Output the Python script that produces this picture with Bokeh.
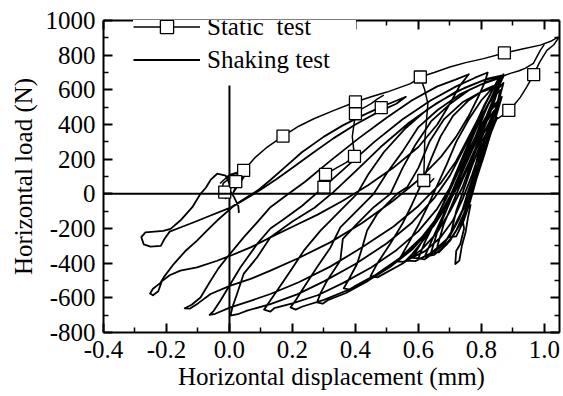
from bokeh.plotting import figure
from bokeh.models import Span, Legend, LegendItem, LinearAxis, FixedTicker, Range1d
from bokeh.embed import file_html
from bokeh.resources import INLINE

# ---------------- data ----------------
x_ticks = [-0.4, -0.2, 0.0, 0.2, 0.4, 0.6, 0.8, 1.0]
x_tick_labels = ["-0.4", "-0.2", "0.0", "0.2", "0.4", "0.6", "0.8", "1.0"]
x_minor = [-0.3, -0.1, 0.1, 0.3, 0.5, 0.7, 0.9]
y_ticks = [-800, -600, -400, -200, 0, 200, 400, 600, 800, 1000]
y_tick_labels = ["-800", "-600", "-400", "-200", "0", "200", "400", "600", "800", "1000"]
y_minor = [-700, -500, -300, -100, 100, 300, 500, 700, 900]

# static test branches
static_env_x = [-0.03, 0.0, 0.045, 0.083, 0.12, 0.17, 0.22, 0.268, 0.33, 0.40, 0.45, 0.50, 0.575, 0.606,
                0.65, 0.70, 0.75, 0.807, 0.873, 0.93, 0.987, 1.02, 1.045]
static_env_y = [60, 110, 135, 212, 270, 333, 390, 433, 480, 530, 560, 587, 636, 674,
                700, 732, 757, 780, 813, 835, 858, 880, 905]
static_unload1_x = [1.045, 1.03, 1.008, 0.985, 0.966, 0.945, 0.924, 0.905, 0.887, 0.87, 0.85]
static_unload1_y = [900, 860, 828, 760, 688, 620, 558, 515, 481, 455, 433]
static_unload2_x = [1.0, 0.987, 0.965, 0.94, 0.92, 0.892, 0.86]
static_unload2_y = [862, 828, 753, 725, 710, 695, 674]
static_unload3_x = [0.49, 0.47, 0.45, 0.42, 0.40, 0.39, 0.397, 0.37, 0.34, 0.305, 0.30, 0.285, 0.30, 0.32]
static_unload3_y = [570, 548, 520, 490, 462, 330, 216, 180, 150, 112, 38, 5, 0, 25]
static_unload4_x = [0.606, 0.62, 0.63, 0.62, 0.617, 0.638, 0.65]
static_unload4_y = [674, 600, 520, 300, 77, 67, 90]
static_origin_x = [-0.01, -0.025, -0.02, 0.0, 0.02, 0.01, 0.035, 0.045]
static_origin_y = [-30, 0, 60, 90, 40, 0, 70, 135]
static_mark_x = [0.045, 0.17, 0.40, 0.40, 0.482, 0.397, 0.305, 0.30, 0.606, 0.873, 0.966, 0.887, 0.617, -0.015, 0.02]
static_mark_y = [135, 333, 530, 462, 497, 216, 112, 38, 674, 813, 688, 481, 77, 10, 70]

# shaking test (one continuous record)
shaking_x = [
    0.03, 0.028, 0.015, 0.0, 0.012, -0.005, 0.02, 0.045, 0.03, 0.005, -0.012, -0.039,
    -0.06, -0.075, -0.092, -0.118, -0.156, -0.187, -0.21, -0.267, -0.28, -0.272, -0.251, -0.218, -0.207, -0.19,
    -0.15, -0.113, -0.06, 0.003, 0.05, 0.09, 0.13, 0.18, 0.23, 0.30, 0.36, 0.42, 0.48, 0.52, 0.56,
    0.53, 0.47, 0.40, 0.33, 0.26, 0.20, 0.15, 0.10, 0.06, 0.01, -0.039, -0.07, -0.103, -0.14, -0.177, -0.209,
    -0.22, -0.243, -0.252, -0.243, -0.226, -0.215, -0.19,
    -0.156, -0.103, -0.039, 0.003, 0.067, 0.13, 0.20, 0.28, 0.36, 0.44, 0.52, 0.60, 0.66, 0.70, 0.73, 0.76,
    0.72, 0.66, 0.58, 0.50, 0.41, 0.32, 0.24, 0.18, 0.13, 0.09, 0.045, -0.007, -0.035, -0.06, -0.092, -0.12,
    -0.142, -0.125, -0.10,
    -0.06, 0.003, 0.067, 0.13, 0.22, 0.32, 0.42, 0.52, 0.60, 0.67, 0.72, 0.76, 0.79, 0.81, 0.82,
    0.78, 0.72, 0.64, 0.55, 0.46, 0.38, 0.30, 0.23, 0.17, 0.13, 0.088, 0.035, 0.003, -0.029, -0.05, -0.063, -0.045,
    0.003, 0.067, 0.13, 0.22, 0.32, 0.42, 0.52, 0.60, 0.67, 0.72, 0.76, 0.80, 0.83, 0.85, 0.87,
    0.82, 0.75, 0.66, 0.57, 0.48, 0.40, 0.33, 0.27, 0.20, 0.13, 0.088, 0.045, 0.024, 0.01, 0.003, 0.03,
    0.056, 0.13, 0.215, 0.30, 0.40, 0.50, 0.58, 0.65, 0.70, 0.74, 0.78, 0.81, 0.84, 0.86,
    0.80, 0.72, 0.63, 0.56, 0.49, 0.44, 0.405, 0.352, 0.289, 0.236, 0.194, 0.151, 0.128, 0.11, 0.13, 0.142,
    0.20, 0.28, 0.36, 0.45, 0.53, 0.60, 0.66, 0.70, 0.74, 0.78, 0.81, 0.84, 0.86,
    0.80, 0.73, 0.66, 0.60, 0.55, 0.50, 0.458, 0.405, 0.352, 0.321, 0.278, 0.236, 0.212, 0.194, 0.21, 0.232,
    0.30, 0.38, 0.46, 0.54, 0.61, 0.67, 0.71, 0.75, 0.79, 0.82, 0.85, 0.87,
    0.82, 0.76, 0.70, 0.64, 0.59, 0.55, 0.511, 0.458, 0.405, 0.36, 0.352, 0.31, 0.29, 0.278, 0.296, 0.312,
    0.37, 0.44, 0.51, 0.58, 0.64, 0.69, 0.73, 0.77, 0.80, 0.83, 0.85,
    0.80, 0.74, 0.68, 0.635, 0.60, 0.565, 0.532, 0.469, 0.437, 0.42, 0.405, 0.38, 0.363, 0.382, 0.40,
    0.46, 0.53, 0.59, 0.65, 0.70, 0.74, 0.78, 0.81, 0.84, 0.86,
    0.81, 0.76, 0.71, 0.67, 0.64, 0.61, 0.58, 0.55, 0.51, 0.47, 0.448, 0.47, 0.49,
    0.55, 0.61, 0.66, 0.70, 0.74, 0.77, 0.80, 0.83, 0.85, 0.87,
    0.84, 0.80, 0.76, 0.72, 0.69, 0.66, 0.63, 0.60, 0.57, 0.545, 0.532, 0.552, 0.572,
    0.62, 0.67, 0.71, 0.74, 0.77, 0.80, 0.83, 0.85, 0.86,
    0.83, 0.80, 0.77, 0.74, 0.71, 0.68, 0.65, 0.62, 0.60, 0.62, 0.64,
    0.68, 0.71, 0.74, 0.76, 0.79, 0.82, 0.84, 0.855,
    0.82, 0.79, 0.76, 0.73, 0.70, 0.66, 0.62, 0.58, 0.56, 0.59,
    0.64, 0.69, 0.72, 0.75, 0.77, 0.80, 0.83, 0.85, 0.865,
    0.83, 0.80, 0.77, 0.74, 0.71, 0.68, 0.65, 0.62, 0.65,
    0.69, 0.72, 0.745, 0.765, 0.79, 0.81, 0.83, 0.85,
    0.83, 0.80, 0.77, 0.74, 0.71, 0.68, 0.66, 0.68,
    0.71, 0.74, 0.76, 0.78, 0.80, 0.82, 0.84, 0.86, 0.87,
    0.84, 0.81, 0.78, 0.75, 0.72, 0.69, 0.65, 0.61, 0.58, 0.61,
    0.66, 0.70, 0.73, 0.755, 0.78, 0.80, 0.82, 0.84,
    0.81, 0.78, 0.75, 0.72, 0.69, 0.66, 0.64, 0.665,
    0.70, 0.73, 0.755, 0.775, 0.80, 0.82, 0.84,
    0.80, 0.77, 0.745, 0.72, 0.70, 0.72,
    0.745, 0.765, 0.785, 0.81, 0.83, 0.85,
    0.80, 0.775, 0.765, 0.755, 0.739, 0.745, 0.733, 0.72, 0.717, 0.73, 0.738, 0.75, 0.757, 0.766,
]
shaking_y = [
    -110, -70, -20, 20, 70, 100, 118, 95, 55, 40, 105, 116,
    80, 35, 0, -77, -154, -202, -214, -222, -250, -292, -305, -300, -262, -218,
    -190, -164, -125, -80, -25, 20, 80, 160, 240, 330, 395, 450, 500, 530, 560,
    520, 470, 400, 320, 230, 150, 85, 25, -20, -75, -154, -210, -270, -330, -405, -482,
    -515, -548, -575, -585, -562, -505, -470,
    -443, -424, -386, -357, -309, -251, -190, -120, -40, 50, 150, 270, 400, 520, 620, 690,
    660, 620, 540, 440, 320, 190, 70, -10, -77, -160, -251, -366, -430, -501, -598, -640,
    -660, -662, -632,
    -578, -530, -491, -443, -370, -280, -170, -40, 80, 210, 330, 450, 560, 640, 700,
    670, 620, 540, 430, 300, 170, 40, -70, -150, -200, -289, -424, -520, -617, -675, -698, -692,
    -655, -617, -578, -510, -420, -310, -190, -70, 60, 190, 330, 470, 580, 650, 685,
    665, 615, 525, 410, 270, 130, 10, -80, -160, -251, -366, -462, -578, -650, -703, -692,
    -674, -636, -580, -505, -405, -285, -165, -25, 105, 245, 395, 515, 615, 680,
    650, 590, 490, 380, 240, 110, 0, -97, -212, -328, -444, -559, -620, -668, -680, -660,
    -632, -585, -515, -425, -325, -215, -85, 35, 175, 325, 465, 590, 670,
    632, 572, 482, 385, 245, 120, 0, -97, -193, -309, -424, -540, -610, -655, -668, -650,
    -612, -552, -472, -372, -252, -112, 18, 168, 328, 468, 600, 678,
    648, 598, 518, 418, 282, 150, 0, -77, -173, -260, -385, -501, -570, -626, -634, -614,
    -572, -502, -422, -322, -202, -72, 58, 208, 358, 498, 618,
    588, 528, 428, 300, 150, 40, 0, -116, -212, -320, -405, -490, -545, -552, -530,
    -472, -392, -302, -182, -42, 98, 258, 398, 528, 640,
    600, 540, 450, 330, 200, 60, -60, -170, -290, -400, -475, -482, -462,
    -402, -322, -222, -102, 38, 188, 338, 478, 600, 690,
    620, 540, 430, 300, 170, 50, -70, -180, -280, -360, -390, -392, -375,
    -332, -252, -152, -32, 108, 268, 408, 518, 600,
    540, 450, 340, 210, 80, -50, -170, -280, -372, -378, -352,
    -292, -202, -92, 28, 178, 328, 448, 530,
    462, 362, 242, 112, -18, -148, -258, -348, -385, -388,
    -342, -262, -172, -62, 58, 198, 348, 468, 560,
    492, 392, 272, 142, 12, -118, -238, -362, -352,
    -292, -212, -112, -2, 138, 278, 398, 492,
    432, 322, 202, 82, -48, -178, -302, -305,
    -242, -152, -42, 78, 218, 338, 452, 570, 640,
    580, 480, 360, 230, 100, -20, -160, -280, -370, -372,
    -322, -242, -142, -30, 110, 250, 380, 480,
    400, 290, 170, 40, -90, -220, -340, -338,
    -272, -182, -72, 48, 188, 318, 420,
    300, 160, 30, -100, -250, -245,
    -150, -40, 90, 230, 350, 440,
    300, 120, 0, -97, -135, -200, -289, -330, -405, -385, -300, -220, -140, -60,
]

zero_line_top = 625  # upper end of the vertical x = 0 reference line

# ---------------- figure ----------------
FONT = "Liberation Serif"
p = figure(width=563, height=396, output_backend="svg", toolbar_location=None,
           x_range=Range1d(-0.4, 1.048), y_range=Range1d(-800, 1000),
           min_border_left=103, min_border_right=4, min_border_top=20, min_border_bottom=64,
           background_fill_color="white", border_fill_color="white")
p.outline_line_color = None
p.grid.visible = False

p.add_layout(LinearAxis(), "above")
p.add_layout(LinearAxis(), "right")


def style_axis(ax, ticks, minor, labels, show):
    ax.ticker = FixedTicker(ticks=ticks, minor_ticks=minor)
    ax.axis_line_color = "black"
    ax.axis_line_width = 2
    ax.major_tick_in = 9
    ax.major_tick_out = 0
    ax.minor_tick_in = 5
    ax.minor_tick_out = 0
    ax.major_tick_line_color = "black"
    ax.minor_tick_line_color = "black"
    ax.major_tick_line_width = 2
    ax.minor_tick_line_width = 1.5
    ax.major_label_text_font = FONT
    ax.major_label_text_color = "black"
    if show:
        ax.major_label_overrides = dict(zip(ticks, labels))
        ax.major_label_text_font_size = "25px"
        ax.major_label_standoff = 8
    else:
        ax.major_label_text_font_size = "0px"
        ax.major_label_standoff = 0


for ax in p.below:
    style_axis(ax, x_ticks, x_minor, x_tick_labels, True)
    ax.axis_label = "Horizontal displacement (mm)"
    ax.axis_label_standoff = 2
for ax in p.left:
    style_axis(ax, y_ticks, y_minor, y_tick_labels, True)
    ax.axis_label = "Horizontal load (N)"
    ax.axis_label_standoff = 6
for ax in p.above:
    style_axis(ax, x_ticks, x_minor, x_tick_labels, False)
for ax in p.right:
    style_axis(ax, y_ticks, y_minor, y_tick_labels, False)
for ax in p.below + p.left:
    ax.axis_label_text_font = FONT
    ax.axis_label_text_font_size = "25px"
    ax.axis_label_text_font_style = "normal"
    ax.axis_label_text_color = "black"

# reference lines
p.add_layout(Span(location=0, dimension="width", line_color="black", line_width=2))
p.segment(x0=[0], y0=[-800], x1=[0], y1=[zero_line_top], line_color="black", line_width=2)

shake_r = p.line(shaking_x, shaking_y, line_color="black", line_width=1.8, line_join="round")

static_r = p.multi_line(
    xs=[static_env_x, static_unload1_x, static_unload2_x, static_unload3_x, static_unload4_x, static_origin_x],
    ys=[static_env_y, static_unload1_y, static_unload2_y, static_unload3_y, static_unload4_y, static_origin_y],
    line_color="black", line_width=1.5, line_join="round")
mark_r = p.scatter(static_mark_x, static_mark_y, marker="square", size=12,
                   line_color="black", line_width=1.3, fill_color="white")

legend = Legend(items=[LegendItem(label="Static  test", renderers=[static_r, mark_r]),
                       LegendItem(label="Shaking test", renderers=[shake_r])],
                location=(30, 256), orientation="vertical",
                glyph_width=67, glyph_height=33, label_height=33, label_width=149,
                label_standoff=7, padding=0, spacing=0, margin=0,
                border_line_color=None, background_fill_color="white", background_fill_alpha=1.0,
                label_text_font=FONT, label_text_font_size="25px", label_text_color="black")
p.add_layout(legend)

open("out.html", "w").write(file_html(p, INLINE))
